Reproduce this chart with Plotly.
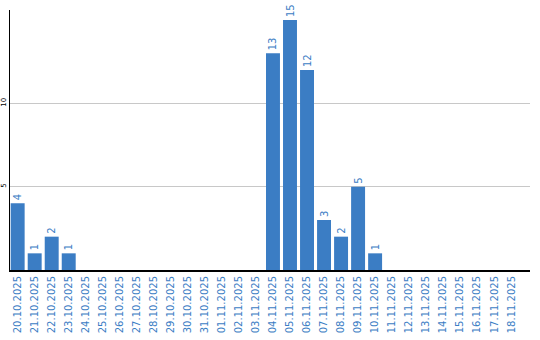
import plotly.graph_objects as go

dates = ["20.10.2025", "21.10.2025", "22.10.2025", "23.10.2025", "24.10.2025", "25.10.2025",
         "26.10.2025", "27.10.2025", "28.10.2025", "29.10.2025", "30.10.2025", "31.10.2025",
         "01.11.2025", "02.11.2025", "03.11.2025", "04.11.2025", "05.11.2025", "06.11.2025",
         "07.11.2025", "08.11.2025", "09.11.2025", "10.11.2025", "11.11.2025", "12.11.2025",
         "13.11.2025", "14.11.2025", "15.11.2025", "16.11.2025", "17.11.2025", "18.11.2025"]
counts = [4, 1, 2, 1, 0, 0, 0, 0, 0, 0, 0, 0, 0, 0, 0, 13, 15, 12, 3, 2, 5, 1, 0, 0, 0, 0, 0, 0, 0, 0]
y_ticks = [5, 10]

blue = "#3b7dc4"
labels = [str(v) if v else "" for v in counts]

fig = go.Figure(go.Bar(
    x=dates, y=counts, marker_color=blue, marker_line_width=0,
    text=labels, textposition="outside", textangle=-90,
    textfont=dict(family="DejaVu Sans", size=10, color=blue),
    cliponaxis=False,
))
fig.update_layout(
    template="none",
    width=540, height=340,
    margin=dict(l=10, r=10, t=10, b=70),
    paper_bgcolor="white", plot_bgcolor="white",
    bargap=0.18, showlegend=False,
)
fig.update_xaxes(
    type="category", tickangle=-90, automargin=False,
    range=[-0.45, 30.1],
    tickfont=dict(family="DejaVu Sans", size=10, color=blue),
    showline=True, linecolor="black", linewidth=2,
    showgrid=False, ticks="", ticklen=0,
)
fig.update_yaxes(
    range=[0, 15.6], tickvals=y_ticks, tickangle=-90, automargin=False,
    tickfont=dict(family="DejaVu Sans", size=7, color="black"),
    showline=True, linecolor="black", linewidth=1,
    showgrid=True, gridcolor="#c8c8c8", gridwidth=1,
    zeroline=False, ticks="", ticklen=0,
)
fig.write_html("out.html")
